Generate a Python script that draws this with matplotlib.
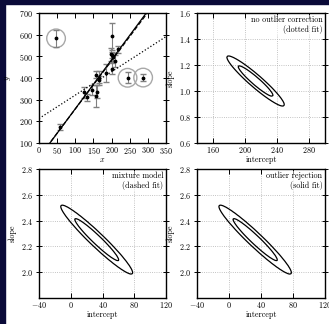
import numpy as np
import matplotlib
matplotlib.use('Agg')
import matplotlib.pyplot as plt
from matplotlib.patches import Rectangle

plt.rcParams['font.family'] = 'serif'
plt.rcParams['font.serif'] = ['cmr10']
plt.rcParams['mathtext.fontset'] = 'cm'
plt.rcParams['axes.formatter.use_mathtext'] = True
plt.rcParams['font.size'] = 5.8
plt.rcParams['axes.linewidth'] = 1.0

# Hogg et al. (2010) test data, upper left panel
x_data = np.array([201, 244, 47, 287, 203, 58, 210, 202, 198, 158,
                   165, 201, 157, 131, 166, 160, 186, 125, 218, 146])
y_data = np.array([592, 401, 583, 402, 495, 173, 479, 504, 510, 416,
                   393, 442, 317, 311, 400, 337, 423, 334, 533, 344])
dy_data = np.array([61, 25, 38, 15, 21, 15, 27, 14, 30, 16,
                    14, 25, 52, 16, 34, 31, 42, 26, 16, 22])
outlier_idx = [1, 2, 3]

# best fit lines: no correction, mixture, rejection
fit_intercept = [213, 34, 32]
fit_slope = [1.08, 2.23, 2.26]
fit_style = [':', '--', '-']

labels = ['no outlier correction\n(dotted fit)',
          'mixture model\n(dashed fit)',
          'outlier rejection\n(solid fit)']
intercept_lims = [(140, 300), (-40, 120), (-40, 120)]
slope_lims = [(0.6, 1.6), (1.8, 2.8), (1.8, 2.8)]
intercept_ticks = [[160, 200, 240, 280], [-40, 0, 40, 80, 120], [-40, 0, 40, 80, 120]]
slope_ticks = [[0.6, 0.8, 1.0, 1.2, 1.4, 1.6], [2.0, 2.2, 2.4, 2.6, 2.8],
               [2.0, 2.2, 2.4, 2.6, 2.8]]


def loglike_gauss(a, b, keep):
    A, B = np.meshgrid(a, b, indexing='ij')
    r = y_data[keep] - (A[..., None] + B[..., None] * x_data[keep])
    return -0.5 * np.sum((r / dy_data[keep]) ** 2, axis=-1)


def mass_fraction(logL):
    # fraction of posterior mass enclosed, for 1 and 2 sigma contours
    L = np.exp(logL - logL.max()).ravel()
    order = np.argsort(L)[::-1]
    cum = np.cumsum(L[order])
    cum /= cum[-1]
    out = np.empty_like(cum)
    out[order] = cum
    return out.reshape(logL.shape)


W, H = 329., 324.
fig = plt.figure(figsize=(W / 100, H / 100), dpi=100)
navy = '#0a0a38'
fig.add_artist(Rectangle((0, 1 - 4 / H), 1, 4 / H, transform=fig.transFigure,
                         color=navy, zorder=-10))
fig.add_artist(Rectangle((0, 0), 5 / W, 1, transform=fig.transFigure,
                         color=navy, zorder=-10))


def px_axes(left, top, right, bottom):
    return fig.add_axes([left / W, 1 - bottom / H, (right - left) / W, (bottom - top) / H])


def style_ticks(ax):
    ax.tick_params(axis='x', direction='in', top=True, length=3.5, width=0.7, pad=1.5)
    ax.tick_params(axis='y', direction='inout', right=True, length=4, width=0.7, pad=2.5)


ax1 = px_axes(39, 13, 166, 143)
ax1.errorbar(x_data, y_data, dy_data, fmt='.k', ecolor='gray', lw=0.8,
             capsize=2, ms=3.5)
xfit = np.linspace(0, 350, 10)
for i in range(3):
    ax1.plot(xfit, fit_intercept[i] + fit_slope[i] * xfit, fit_style[i], c='k', lw=0.9)
ax1.scatter(x_data[outlier_idx], y_data[outlier_idx], s=180, lw=1,
            facecolors='none', edgecolors='#a8a8a8')
ax1.set_xlim(0, 350)
ax1.set_ylim(100, 700)
ax1.set_xticks(range(0, 351, 50))
ax1.set_yticks(range(100, 701, 100))
ax1.set_xlabel('$x$', labelpad=0)
ax1.set_ylabel('$y$', labelpad=4)
style_ticks(ax1)

all_pts = np.arange(len(x_data))
inliers = np.setdiff1d(all_pts, outlier_idx)
boxes = [(197, 13, 325, 143), (39, 169, 166, 298), (197, 169, 325, 298)]
for i in range(3):
    ax = px_axes(*boxes[i])
    a = np.linspace(intercept_lims[i][0], intercept_lims[i][1], 121)
    b = np.linspace(slope_lims[i][0], slope_lims[i][1], 121)
    logL = loglike_gauss(a, b, all_pts if i == 0 else inliers)
    frac = mass_fraction(logL)
    ax.contour(a, b, frac.T, levels=[0.683, 0.955], colors='k', linewidths=0.9)
    ax.grid(color='#b0b0b0', ls=':', lw=0.6)
    ax.set_xlim(intercept_lims[i])
    ax.set_ylim(slope_lims[i])
    ax.set_xticks(intercept_ticks[i])
    ax.set_yticks(slope_ticks[i])
    ax.set_xlabel('intercept', labelpad=0.5)
    ax.set_ylabel('slope', labelpad=3)
    ax.text(0.98, 0.98, labels[i], ha='right', va='top',
            bbox=dict(fc='w', ec='none', alpha=0.5, pad=0.5),
            transform=ax.transAxes)
    style_ticks(ax)

fig.savefig('out.png', dpi=100, facecolor='white')
